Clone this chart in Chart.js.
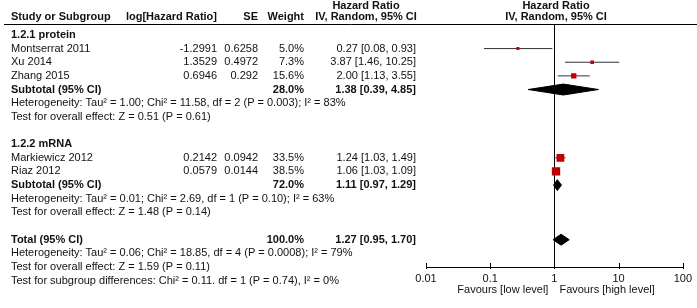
<!DOCTYPE html>
<html>
<head>
<meta charset="utf-8">
<script src="https://cdn.jsdelivr.net/npm/chart.js@4"></script>
<style>
  html,body{margin:0;padding:0;background:#fff;}
  #wrap{width:697px;height:308px;position:relative;}
</style>
</head>
<body>
<div id="wrap"><canvas id="forest" width="697" height="308"></canvas></div>
<script>
/* ---- data ---- */
const studies   = ['Montserrat 2011','Xu 2014','Zhang 2015','Markiewicz 2012','Riaz 2012'];
const studyRows = [1, 2, 3, 9, 10];
const logHR     = ['-1.2991','1.3529','0.6946','0.2142','0.0579'];
const seVals    = ['0.6258','0.4972','0.292','0.0942','0.0144'];
const weights   = [5.0, 7.3, 15.6, 33.5, 38.5];
const hrEst     = [0.27, 3.87, 2.00, 1.24, 1.06];
const hrLo      = [0.08, 1.46, 1.13, 1.03, 1.03];
const hrHi      = [0.93, 10.25, 3.55, 1.49, 1.09];

const groupNames = ['1.2.1 protein','1.2.2 mRNA'];
const groupRows  = [0, 8];

const poolNames  = ['Subtotal (95% CI)','Subtotal (95% CI)','Total (95% CI)'];
const poolRows   = [4, 11, 15];
const poolWeight = [28.0, 72.0, 100.0];
const poolEst    = [1.38, 1.11, 1.27];
const poolLo     = [0.39, 0.97, 0.95];
const poolHi     = [4.85, 1.29, 1.70];

const noteRows = [5, 6, 12, 13, 16, 17, 18];
const notes = [
  'Heterogeneity: Tau\u00b2 = 1.00; Chi\u00b2 = 11.58, df = 2 (P = 0.003); I\u00b2 = 83%',
  'Test for overall effect: Z = 0.51 (P = 0.61)',
  'Heterogeneity: Tau\u00b2 = 0.01; Chi\u00b2 = 2.69, df = 1 (P = 0.10); I\u00b2 = 63%',
  'Test for overall effect: Z = 1.48 (P = 0.14)',
  'Heterogeneity: Tau\u00b2 = 0.06; Chi\u00b2 = 18.85, df = 4 (P = 0.0008); I\u00b2 = 79%',
  'Test for overall effect: Z = 1.59 (P = 0.11)',
  'Test for subgroup differences: Chi\u00b2 = 0.11. df = 1 (P = 0.74), I\u00b2 = 0%'
];

const tickVals = [0.01, 0.1, 1, 10, 100];
const favourLow = 'Favours [low level]';
const favourHigh = 'Favours [high level]';

/* ---- style ---- */
const FONT = '"Liberation Sans", Arial, sans-serif';
const INK = '#111';
const RED = '#c00000';
const COL = {name:11, loghr:217, se:258, weight:304, hr:416, hrHead:366, plotHead:556};
const fmt2 = v => v.toFixed(2);
const ciText = (e,l,h) => fmt2(e)+' ['+fmt2(l)+', '+fmt2(h)+']';

/* ---- datasets ---- */
const datasets = [];
studies.forEach((s,i)=>{
  datasets.push({
    data:[{x:hrLo[i],y:studyRows[i]},{x:hrHi[i],y:studyRows[i]}],
    showLine:true, borderColor:'#333', borderWidth:1, pointRadius:0, order:3
  });
});
datasets.push({
  data: studies.map((s,i)=>({x:hrEst[i],y:studyRows[i]})),
  pointStyle:'rect', pointRadius: weights.map(w=>0.95*Math.sqrt(w)),
  backgroundColor:RED, borderWidth:0, order:1
});
const DH = 0.4;
poolEst.forEach((e,i)=>{
  const r = poolRows[i];
  datasets.push({
    data:[{x:poolLo[i],y:r},{x:e,y:r-DH},{x:poolHi[i],y:r},{x:e,y:r+DH},{x:poolLo[i],y:r}],
    showLine:true, fill:'shape', borderColor:'#000', backgroundColor:'#000',
    borderWidth:1, pointRadius:0, tension:0, order:2
  });
});

/* ---- text + reference lines ---- */
const forestText = {
  id:'forestText',
  beforeDatasetsDraw(chart){
    const {ctx, chartArea:a, scales:{x}} = chart;
    const x1 = Math.round(x.getPixelForValue(1))+0.5;
    ctx.save();
    ctx.strokeStyle='#000'; ctx.lineWidth=1;
    ctx.beginPath(); ctx.moveTo(x1,a.top); ctx.lineTo(x1,a.bottom); ctx.stroke();
    ctx.restore();
  },
  afterDraw(chart){
    const {ctx, chartArea:a, scales:{x,y}} = chart;
    const py = r => y.getPixelForValue(r);
    const txt = (s,px,r,align,bold) => {
      ctx.font = (bold?'bold ':'')+'11px '+FONT;
      ctx.textAlign = align; ctx.fillText(s,px,py(r));
    };
    ctx.save();
    ctx.fillStyle = INK; ctx.textBaseline = 'middle';

    // header
    txt('Hazard Ratio', COL.hrHead, -2.12, 'center', true);
    txt('Hazard Ratio', COL.plotHead, -2.12, 'center', true);
    txt('Study or Subgroup', COL.name, -1.31, 'left', true);
    txt('log[Hazard Ratio]', COL.loghr, -1.31, 'right', true);
    txt('SE', COL.se, -1.31, 'right', true);
    txt('Weight', COL.weight, -1.31, 'right', true);
    txt('IV, Random, 95% CI', COL.hrHead, -1.31, 'center', true);
    txt('IV, Random, 95% CI', COL.plotHead, -1.31, 'center', true);
    ctx.strokeStyle='#000'; ctx.lineWidth=1;
    ctx.beginPath(); ctx.moveTo(4,a.top+0.5); ctx.lineTo(697,a.top+0.5); ctx.stroke();

    groupNames.forEach((g,i)=>txt(g, COL.name, groupRows[i], 'left', true));
    studies.forEach((s,i)=>{
      const r = studyRows[i];
      txt(s, COL.name, r, 'left');
      txt(logHR[i], COL.loghr, r, 'right');
      txt(seVals[i], COL.se, r, 'right');
      txt(weights[i].toFixed(1)+'%', COL.weight, r, 'right');
      txt(ciText(hrEst[i],hrLo[i],hrHi[i]), COL.hr, r, 'right');
    });
    poolNames.forEach((p,i)=>{
      const r = poolRows[i];
      txt(p, COL.name, r, 'left', true);
      txt(poolWeight[i].toFixed(1)+'%', COL.weight, r, 'right', true);
      txt(ciText(poolEst[i],poolLo[i],poolHi[i]), COL.hr, r, 'right', true);
    });
    notes.forEach((n,i)=>txt(n, COL.name, noteRows[i], 'left'));

    // axis ticks + favours labels
    tickVals.forEach(v=>{
      const px = Math.round(x.getPixelForValue(v))+0.5;
      ctx.beginPath(); ctx.moveTo(px,a.bottom-4); ctx.lineTo(px,a.bottom+2); ctx.stroke();
    });
    const x1 = x.getPixelForValue(1);
    ctx.font = '11px '+FONT; ctx.textBaseline='middle';
    ctx.textAlign='right'; ctx.fillText(favourLow, x1-6, a.bottom+23);
    ctx.textAlign='left';  ctx.fillText(favourHigh, x1+5, a.bottom+23);
    ctx.restore();
  }
};

new Chart(document.getElementById('forest'), {
  type:'scatter',
  data:{datasets},
  options:{
    responsive:false, animation:false, devicePixelRatio:1,
    layout:{padding:{left:426, right:13, top:24, bottom:21}},
    plugins:{legend:{display:false}, tooltip:{enabled:false}},
    scales:{
      x:{
        type:'logarithmic', min:0.01, max:100,
        afterBuildTicks: s => { s.ticks = tickVals.map(v=>({value:v})); },
        afterFit: s => { s.height = 20; },
        grid:{display:false, drawTicks:false},
        border:{display:true, color:'#000', width:1},
        ticks:{color:INK, font:{family:FONT, size:11}, padding:5, autoSkip:false, maxRotation:0,
               callback: v => String(v)}
      },
      y:{
        type:'linear', display:false, reverse:true, min:-0.8, max:17
      }
    }
  },
  plugins:[forestText]
});
</script>
</body>
</html>
